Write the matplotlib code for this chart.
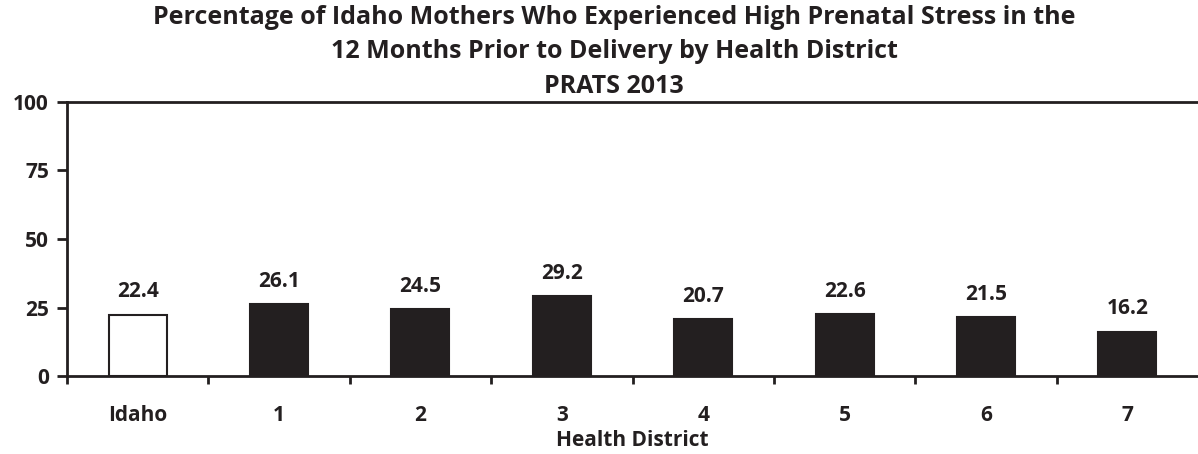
import matplotlib
matplotlib.use("Agg")
import matplotlib.pyplot as plt

categories = ["Idaho", "1", "2", "3", "4", "5", "6", "7"]
values = [22.4, 26.1, 24.5, 29.2, 20.7, 22.6, 21.5, 16.2]
yticks = [0, 25, 50, 75, 100]

plt.rcParams['font.family'] = ['Open Sans', 'DejaVu Sans']
INK = "#231f20"

fig = plt.figure(figsize=(11.98, 4.54), dpi=100)
ax = fig.add_axes([67/1198, 1 - 376/454, (1198 - 67)/1198, (376 - 102)/454])

x = list(range(len(categories)))
colors = ["white"] + [INK] * (len(categories) - 1)
ax.bar(x, values, width=0.41, color=colors, edgecolor=INK, linewidth=1.5, zorder=3)
for xi, v in zip(x, values):
    ax.text(xi, v + 4.5, f"{v:.1f}", ha="center", va="bottom", fontsize=15,
            fontweight="bold", color=INK)

ax.set_xlim(-0.5, len(categories) - 0.5)
ax.set_ylim(0, 100)
ax.set_yticks(yticks)
ax.set_yticklabels([str(t) for t in yticks], fontsize=15, fontweight="bold", color=INK)
ax.set_xticks(x)
ax.set_xticklabels(categories, fontsize=15, fontweight="bold", color=INK)
ax.tick_params(axis="x", length=0, pad=21)
ax.set_xticks([i - 0.5 for i in range(len(categories))], minor=True)
ax.tick_params(axis="x", which="minor", length=6, width=2, color=INK, direction="out")
ax.tick_params(axis="y", length=7, width=2, color=INK, direction="out", pad=6)

for s in ["left", "bottom", "top"]:
    ax.spines[s].set_linewidth(2)
    ax.spines[s].set_color(INK)
ax.spines["right"].set_visible(False)

ax.set_xlabel("Health District", fontsize=15, fontweight="bold", color=INK, labelpad=3)

fig.text(614/1198, 1 - 5/454,
         "Percentage of Idaho Mothers Who Experienced High Prenatal Stress in the\n"
         "12 Months Prior to Delivery by Health District\nPRATS 2013",
         ha="center", va="top", fontsize=18, fontweight="bold", color=INK,
         linespacing=1.5)

fig.savefig("out.png", dpi=100)
